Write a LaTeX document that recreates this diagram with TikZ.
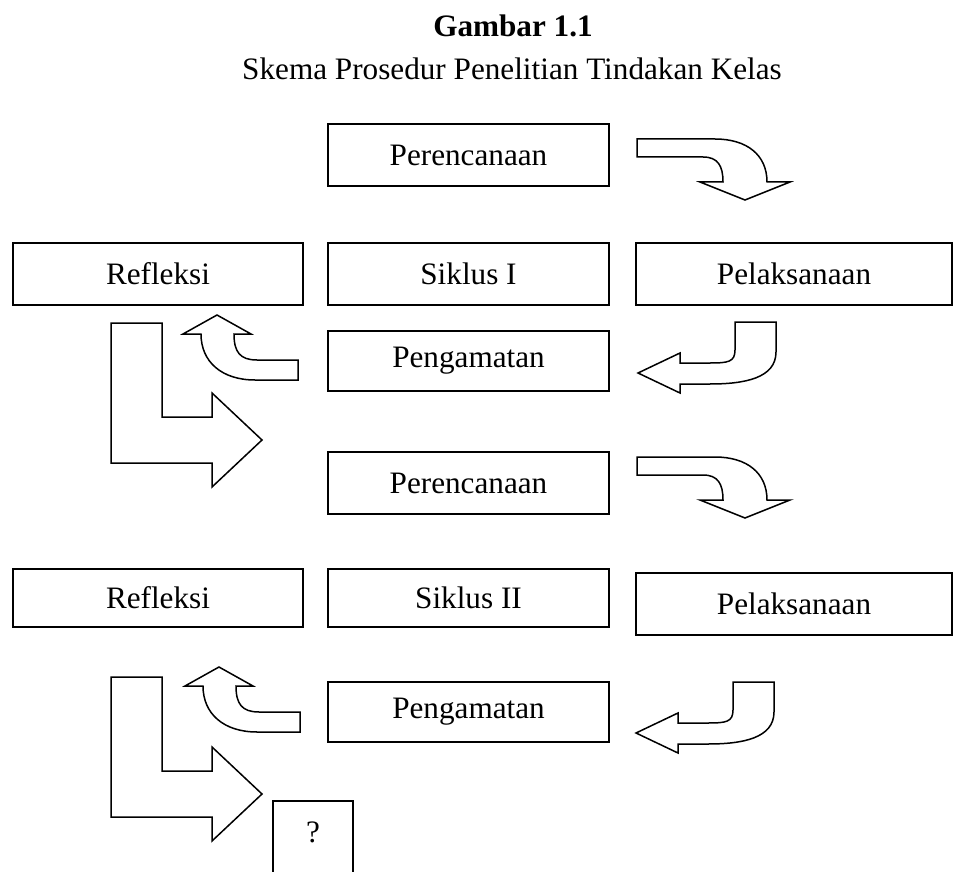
\documentclass[tikz,border=0pt]{standalone}
\usepackage{fontspec}
\setmainfont{Liberation Serif}
\usepackage{tikz}

\tikzset{
	kotak/.style={draw, line width=1pt, inner sep=0pt, minimum width=140.5pt, minimum height=31pt},
	panah/.style={draw, line width=0.75pt, line join=miter, fill=white}
}

\begin{document}
\begin{tikzpicture}[x=0.5pt, y=-0.5pt, font=\fontsize{15.6pt}{18pt}\selectfont]
		\clip (0,0) rectangle (954,872);
		% judul
		\node[font=\fontsize{15.6pt}{18pt}\selectfont\bfseries, anchor=base] (judul) at (513,37) {Gambar 1.1};
		\node[anchor=base] (subjudul) at (512,80) {Skema Prosedur Penelitian Tindakan Kelas};
		% siklus I
		\node[kotak] (rencana1) at (468.5,155) {Perencanaan};
		\node[kotak, minimum width=145pt] (refleksi1) at (158,274) {Refleksi};
		\node[kotak] (siklus1) at (468.5,274) {Siklus I};
		\node[kotak, minimum width=158pt] (laksana1) at (794,274) {Pelaksanaan};
		\node[kotak, minimum height=30pt] (amati1) at (468.5,361) {Pengamatan};
		% siklus II
		\node[kotak] (rencana2) at (468.5,483) {Perencanaan};
		\node[kotak, minimum width=145pt, minimum height=29pt] (refleksi2) at (158,598) {Refleksi};
		\node[kotak, minimum height=29pt] (siklus2) at (468.5,598) {Siklus II};
		\node[kotak, minimum width=158pt] (laksana2) at (794,604) {Pelaksanaan};
		\node[kotak, minimum height=30pt] (amati2) at (468.5,712) {Pengamatan};
		\node[minimum width=40pt, minimum height=31pt, inner sep=0pt] (tanya) at (313,832) {?};
		\draw[line width=1pt] (tanya.south west) ++(0,30) |- (tanya.north east) -- ++(0,92);
		% panah siklus I
		\draw[panah] (637,139) -- (715,139) .. controls (747,139) and (767,155) .. (767,182) -- (790,182) -- (745,200) -- (700,182) -- (723,182) .. controls (723,166) and (718,157) .. (703,157) -- (637,157) -- cycle;
		\draw[panah] (776,322) -- (776,352) .. controls (776,378) and (745,384) .. (710,384) -- (680,384) -- (680,393) -- (638,373) -- (680,353) -- (680,363) -- (710,363) .. controls (728,363) and (735,362) .. (735,350) -- (735,322) -- cycle;
		\draw[panah] (298,380) -- (255,380) .. controls (222,380) and (201,362) .. (201,334) -- (183,334) -- (217,315) -- (251,334) -- (234,334) .. controls (234,352) and (240,360) .. (257,360) -- (298,360) -- cycle;
		\draw[panah] (111,323) -- (162,323) -- (162,417) -- (212,417) -- (212,393) -- (262,440) -- (212,487) -- (212,463) -- (111,463) -- cycle;
		% panah siklus II
		\begin{scope}[shift={(0,318)}]
			\draw[panah] (637,139) -- (715,139) .. controls (747,139) and (767,155) .. (767,182) -- (790,182) -- (745,200) -- (700,182) -- (723,182) .. controls (723,166) and (718,157) .. (703,157) -- (637,157) -- cycle;
		\end{scope}
		\begin{scope}[shift={(-2,360)}]
			\draw[panah] (776,322) -- (776,352) .. controls (776,378) and (745,384) .. (710,384) -- (680,384) -- (680,393) -- (638,373) -- (680,353) -- (680,363) -- (710,363) .. controls (728,363) and (735,362) .. (735,350) -- (735,322) -- cycle;
		\end{scope}
		\begin{scope}[shift={(2,352)}]
			\draw[panah] (298,380) -- (255,380) .. controls (222,380) and (201,362) .. (201,334) -- (183,334) -- (217,315) -- (251,334) -- (234,334) .. controls (234,352) and (240,360) .. (257,360) -- (298,360) -- cycle;
		\end{scope}
		\begin{scope}[shift={(0,354)}]
			\draw[panah] (111,323) -- (162,323) -- (162,417) -- (212,417) -- (212,393) -- (262,440) -- (212,487) -- (212,463) -- (111,463) -- cycle;
		\end{scope}
\end{tikzpicture}
\end{document}
